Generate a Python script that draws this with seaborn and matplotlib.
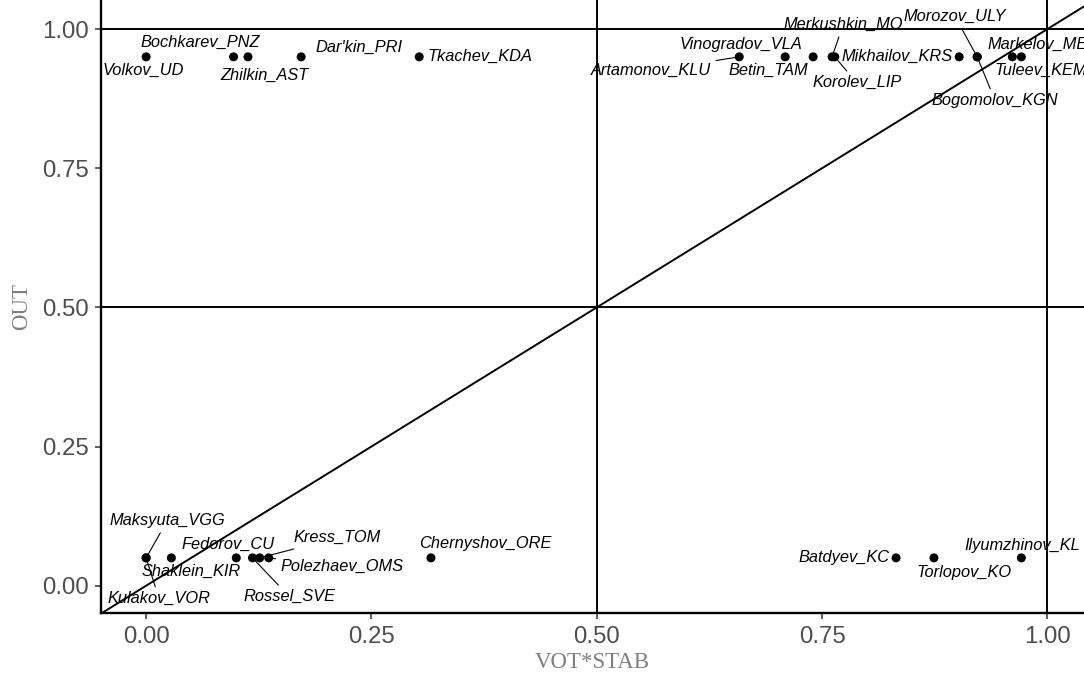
import matplotlib
matplotlib.use("Agg")
import matplotlib.pyplot as plt
import seaborn as sns
import pandas as pd

# ---- data ----
names = ["Volkov_UD", "Bochkarev_PNZ", "Zhilkin_AST", "Dar'kin_PRI", "Tkachev_KDA",
         "Artamonov_KLU", "Vinogradov_VLA", "Betin_TAM", "Merkushkin_MO", "Korolev_LIP",
         "Mikhailov_KRS", "Morozov_ULY", "Bogomolov_KGN", "Markelov_ME", "Tuleev_KEM",
         "Maksyuta_VGG", "Kulakov_VOR", "Shaklein_KIR", "Fedorov_CU", "Kress_TOM",
         "Polezhaev_OMS", "Rossel_SVE", "Chernyshov_ORE", "Batdyev_KC", "Torlopov_KO",
         "Ilyumzhinov_KL"]
vot_stab = [0.0, 0.097, 0.113, 0.172, 0.303,
            0.658, 0.709, 0.740, 0.761, 0.764,
            0.902, 0.922, 0.922, 0.961, 0.971,
            0.0, 0.0, 0.028, 0.100, 0.126,
            0.136, 0.118, 0.316, 0.832, 0.874,
            0.971]
out = [0.95] * 15 + [0.05] * 11
x_ticks = [0.0, 0.25, 0.5, 0.75, 1.0]
y_ticks = [0.0, 0.25, 0.5, 0.75, 1.0]
tick_labels = ["0.00", "0.25", "0.50", "0.75", "1.00"]

# label layout: offset of label centre from point (pixels, +down), and leader flag
label_offsets = [(-3, 14), (-33, -14), (16, 19), (58, -9), (61, 0),
                 (-88, 14), (-44, -12), (-45, 14), (11, -32), (22, 26),
                 (-62, 0), (-22, -40), (18, 44), (25, -12), (19, 14),
                 (21, -37), (13, 41), (20, 14), (-8, -13), (77, -20),
                 (73, 9), (37, 39), (54, -14), (-52, 0), (30, 15),
                 (1, -12)]
leaders = {"Artamonov_KLU", "Merkushkin_MO", "Korolev_LIP", "Morozov_ULY", "Bogomolov_KGN",
           "Maksyuta_VGG", "Kulakov_VOR", "Kress_TOM", "Polezhaev_OMS", "Rossel_SVE"}

df = pd.DataFrame({"name": names, "VOT*STAB": vot_stab, "OUT": out})

sns.set_theme(style="white")
plt.rcParams["font.family"] = ["Liberation Sans", "DejaVu Sans"]

DPI = 100
fig = plt.figure(figsize=(10.84, 6.79), dpi=DPI)
ax = fig.add_axes([100.7 / 1084, (679 - 612.7) / 679, (1084 - 100.7) / 1084, 612.7 / 679])

lw = 1.4
ax.axhline(0.5, color="black", lw=lw, zorder=3)
ax.axhline(1.0, color="black", lw=lw, zorder=3)
ax.axvline(0.5, color="black", lw=lw, zorder=3)
ax.axvline(1.0, color="black", lw=lw, zorder=3)
ax.axline((0, 0), slope=1, color="black", lw=lw, zorder=3)

sns.scatterplot(data=df, x="VOT*STAB", y="OUT", color="black", s=42,
                edgecolor="none", linewidth=0, ax=ax, zorder=4, legend=False)

px2pt = 72.0 / DPI
for nm, xv, yv, (dx, dy) in zip(names, vot_stab, out, label_offsets):
    kw = {}
    if nm in leaders:
        kw["arrowprops"] = dict(arrowstyle="-", color="black", lw=0.8,
                                shrinkA=1, shrinkB=3)
    ax.annotate(nm, xy=(xv, yv), xytext=(dx * px2pt, -dy * px2pt),
                textcoords="offset points", ha="center", va="center",
                fontsize=11.8, fontstyle="italic", color="black",
                family=["Liberation Sans", "DejaVu Sans"], zorder=5,
                annotation_clip=False, **kw)

ax.set_xlim(-0.0504, 1.0405)
ax.set_ylim(-0.0485, 1.0521)
ax.set_xticks(x_ticks)
ax.set_xticklabels(tick_labels)
ax.set_yticks(y_ticks)
ax.set_yticklabels(tick_labels)

for side in ["top", "right"]:
    ax.spines[side].set_visible(False)
for side in ["left", "bottom"]:
    ax.spines[side].set_visible(True)
    ax.spines[side].set_color("black")
    ax.spines[side].set_linewidth(1.7)

ax.tick_params(axis="both", which="major", length=4.5, width=1.1, color="#333333",
               labelsize=17.3, labelcolor="#4D4D4D", direction="out",
               bottom=True, left=True)
ax.tick_params(axis="y", pad=4)
ax.tick_params(axis="x", pad=5)
ax.grid(False)

ax.set_xlabel("VOT*STAB", family=["Liberation Serif", "DejaVu Serif"], fontsize=16.5,
              color="#7F7F7F", labelpad=3)
ax.set_ylabel("OUT", family=["Liberation Serif", "DejaVu Serif"], fontsize=16.5,
              color="#7F7F7F", labelpad=7)

fig.savefig("out.png", dpi=DPI)
